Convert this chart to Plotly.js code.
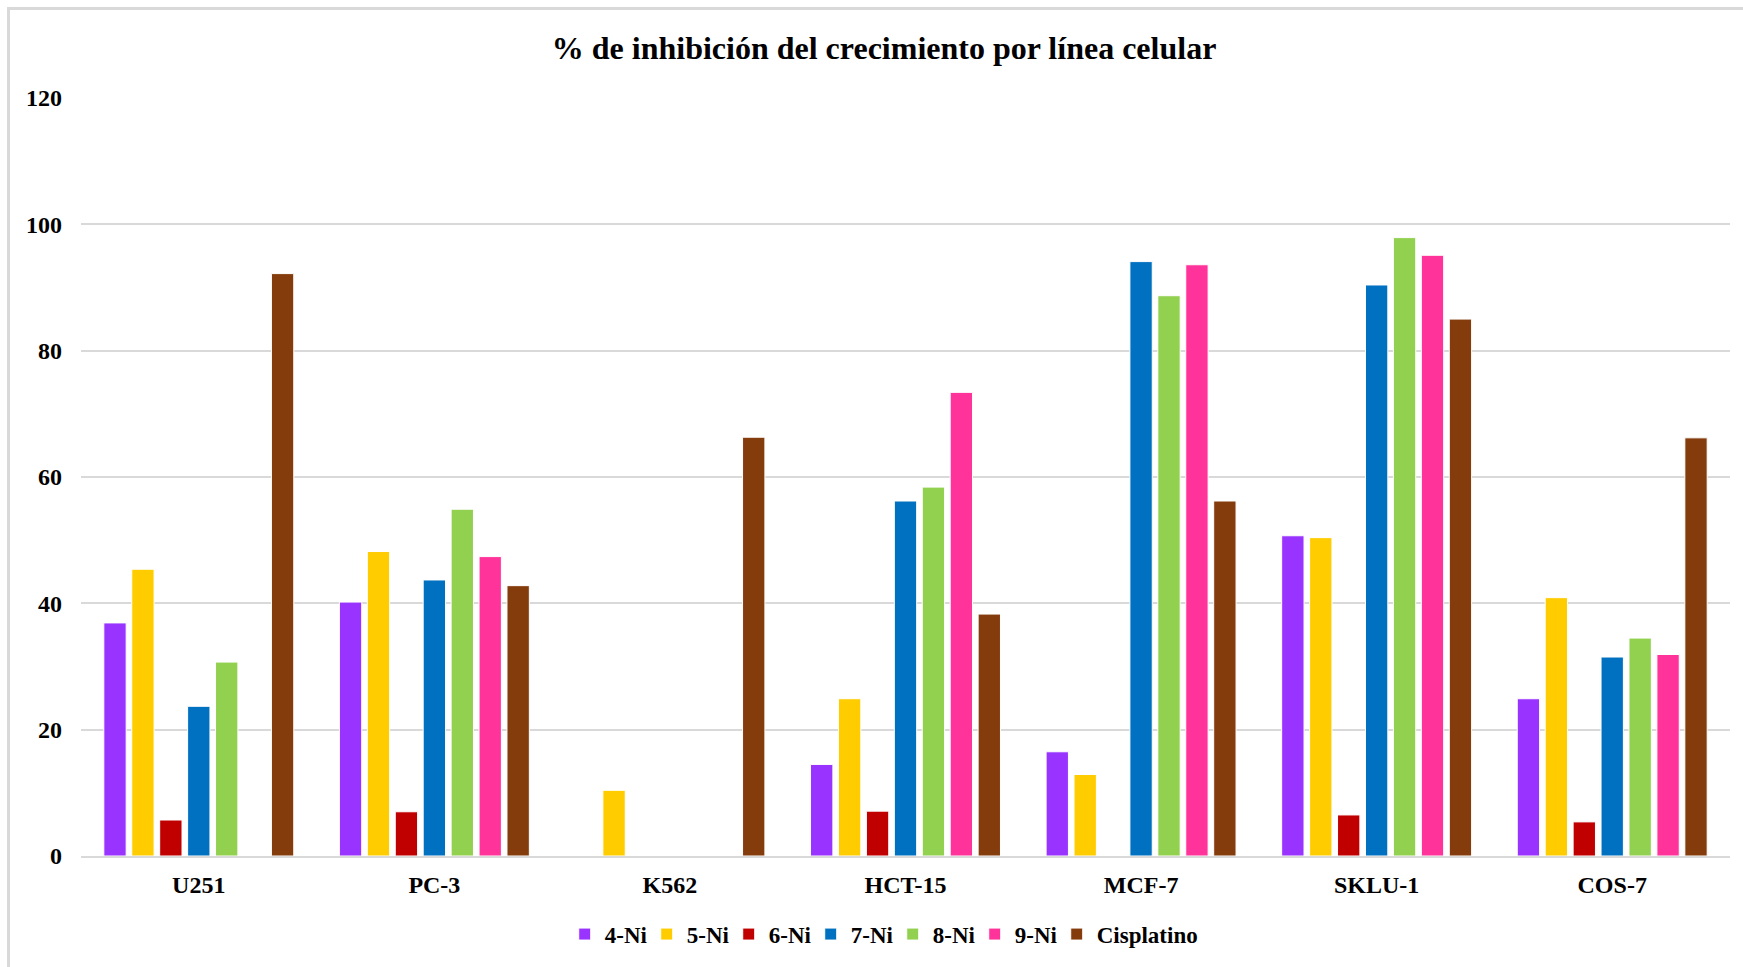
<!DOCTYPE html>
<html>
<head>
<meta charset="utf-8">
<script src="https://cdn.plot.ly/plotly-3.0.1.min.js"></script>
<style>
  html, body { margin: 0; padding: 0; background: #fff; }
  #wrap { position: relative; width: 1743px; height: 967px; overflow: hidden; }
  #frame { position: absolute; left: 7px; top: 7px; width: 1800px; height: 1000px;
           border-left: 3px solid #d9d9d9; border-top: 3px solid #d9d9d9; box-sizing: border-box; }
  #chart { position: absolute; left: 0; top: 0; width: 1743px; height: 967px; }
</style>
</head>
<body>
<div id="wrap">
  <div id="frame"></div>
  <div id="chart"></div>
</div>
<script>
const categories = ["U251", "PC-3", "K562", "HCT-15", "MCF-7", "SKLU-1", "COS-7"];
const seriesNames = ["4-Ni", "5-Ni", "6-Ni", "7-Ni", "8-Ni", "9-Ni", "Cisplatino"];
const ni4 = [36.9, 40.2, null, 14.5, 16.5, 50.7, 24.9];
const ni5 = [45.4, 48.2, 10.4, 24.9, 12.9, 50.4, 40.9];
const ni6 = [5.7, 7.0, null, 7.1, null, 6.5, 5.4];
const ni7 = [23.7, 43.7, null, 56.2, 94.1, 90.4, 31.5];
const ni8 = [30.7, 54.9, null, 58.4, 88.7, 97.9, 34.5];
const ni9 = [null, 47.4, null, 73.4, 93.6, 95.1, 31.9];
const cisplatino = [92.2, 42.8, 66.3, 38.3, 56.2, 85.0, 66.2];
const colors = ["#9933ff", "#ffcc00", "#c00000", "#0070c0", "#92d050", "#ff3399", "#843c0c"];
const yTicks = [0, 20, 40, 60, 80, 100, 120];

const seriesValues = [ni4, ni5, ni6, ni7, ni8, ni9, cisplatino];
const FONT = "'Liberation Serif', 'Times New Roman', serif";

const traces = seriesValues.map((vals, i) => ({
  type: "bar",
  name: seriesNames[i],
  x: categories,
  y: vals,
  marker: { color: colors[i], line: { color: "#ffffff", width: 1 } },
  legendwidth: i === seriesValues.length - 1 ? 115 : 37,
  hoverinfo: "x+y+name"
}));

const layout = {
  width: 1743,
  height: 967,
  paper_bgcolor: "rgba(0,0,0,0)",
  plot_bgcolor: "rgba(0,0,0,0)",
  margin: { l: 81, r: 13, t: 98, b: 111 },
  barmode: "group",
  bargap: 0.17,
  bargroupgap: 0.2,
  title: {
    text: "<b>% de inhibición del crecimiento por línea celular</b>",
    font: { family: FONT, size: 32, color: "#000" },
    x: 0.5072, xanchor: "center",
    y: 0.951, yanchor: "middle"
  },
  xaxis: {
    type: "category",
    tickfont: { family: FONT, size: 24, color: "#000", weight: "bold" },
    showline: true, linecolor: "#d9d9d9", linewidth: 2,
    ticks: "", showgrid: false,
    ticklabelstandoff: 6
  },
  yaxis: {
    range: [0, 120],
    tickvals: yTicks,
    ticktext: yTicks.map(v => "<b>" + v + "</b>"),
    tickfont: { family: FONT, size: 24, color: "#000" },
    showgrid: true, gridcolor: "#d9d9d9", gridwidth: 2,
    zeroline: false, showline: false, ticks: "",
    ticklabelstandoff: 18
  },
  legend: {
    orientation: "h",
    xref: "container", yref: "container",
    x: 0.324, xanchor: "left",
    y: 0.034, yanchor: "middle",
    font: { family: FONT, size: 23, color: "#000", weight: "bold" },
    itemwidth: 30,
    entrywidthmode: "pixels",
    tracegroupgap: 0,
    traceorder: "normal"
  },
  showlegend: true
};

Plotly.newPlot("chart", traces, layout, { displayModeBar: false });
</script>
</body>
</html>
